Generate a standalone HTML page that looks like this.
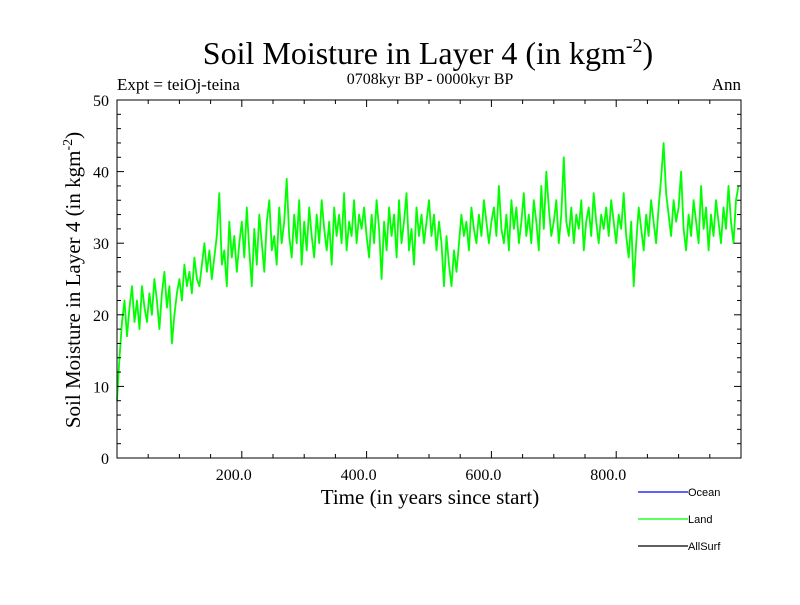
<!DOCTYPE html>
<html><head><meta charset="utf-8"><style>
body{margin:0;background:#fff;}
svg text{font-family:"Liberation Serif",serif;}
</style></head><body>
<svg width="800" height="600" xmlns="http://www.w3.org/2000/svg" id="chart">
<text x="428" y="64" font-size="32" text-anchor="middle">Soil Moisture in Layer 4 (in kgm<tspan dy="-12" font-size="20">-2</tspan><tspan dy="12">)</tspan></text>
<text x="117" y="90" font-size="17">Expt = teiOj-teina</text>
<text x="430" y="84" font-size="16" text-anchor="middle">0708kyr BP - 0000kyr BP</text>
<text x="741" y="90" font-size="17" text-anchor="end">Ann</text>
<g id="plot"></g>
<text x="430" y="504" font-size="21" text-anchor="middle">Time (in years since start)</text>
<text transform="translate(80,280) rotate(-90)" font-size="21" text-anchor="middle">Soil Moisture in Layer 4 (in kgm<tspan dy="-8" font-size="14">-2</tspan><tspan dy="8">)</tspan></text>
<g font-size="11">
<line x1="638" y1="492" x2="688" y2="492" stroke="#0000ff" stroke-width="1.2"/>
<text x="688" y="496" style="font-family:'Liberation Sans',sans-serif">Ocean</text>
<line x1="638" y1="519" x2="688" y2="519" stroke="#00ff00" stroke-width="1.2"/>
<text x="688" y="523" style="font-family:'Liberation Sans',sans-serif">Land</text>
<line x1="638" y1="546" x2="688" y2="546" stroke="#000" stroke-width="1.2"/>
<text x="688" y="550" style="font-family:'Liberation Sans',sans-serif">AllSurf</text>
</g>
</svg>
<script>
const years = [];
const landValues = [
8,14,19,22,17,21,24,19,22,18,24,21,19,23,20,25,22,18,23,26,21,24,16,20,23,
25,22,27,24,26,23,28,25,24,27,30,26,29,25,28,31,37,27,29,24,33,28,31,26,30,
33,28,35,29,24,32,27,34,30,26,33,36,29,31,27,35,30,33,39,31,28,34,30,36,27,
33,29,35,31,28,34,30,36,32,29,33,27,35,31,34,30,37,29,33,31,36,30,34,32,35,
31,28,34,30,36,32,25,33,29,35,31,34,28,36,30,33,37,29,32,27,35,31,34,30,33,
36,31,34,29,33,30,24,31,27,24,29,26,30,34,31,33,29,35,32,30,34,31,36,33,30,
33,35,31,38,32,30,34,29,36,32,35,30,33,37,31,34,30,36,33,29,38,32,40,35,31,
33,36,30,34,42,33,31,35,30,34,32,36,29,33,35,31,37,33,30,34,32,35,31,36,33,
30,34,32,37,31,28,33,24,30,35,32,29,34,31,36,33,30,35,39,44,37,34,31,36,33,
35,40,32,29,34,31,36,33,30,38,32,35,29,34,31,36,33,30,35,32,38,33,30,36,38];
for(let i=0;i<landValues.length;i++) years.push(i*4);
const yTickLabels=["0","10","20","30","40","50"];
const xTickLabels=["200.0","400.0","600.0","800.0"];
const X0=117,X1=741,Y0=458,Y1=100;
const xs=v=>X0+(v/1000)*(X1-X0), ys=v=>Y0-(v/50)*(Y0-Y1);
const NS="http://www.w3.org/2000/svg", g=document.getElementById('plot');
function mk(t,a){const e=document.createElementNS(NS,t);for(const k in a)e.setAttribute(k,a[k]);g.appendChild(e);return e;}
let d=years.map((y,i)=>(i?'L':'M')+xs(y).toFixed(1)+' '+ys(landValues[i]).toFixed(1)).join(' ');
const line=mk('path',{d:d,fill:'none',stroke:'#00ff00','stroke-width':1.8,'stroke-linejoin':'round'});


const frame=mk('rect',{x:X0,y:Y1,width:X1-X0,height:Y0-Y1,fill:'none',stroke:'#000','stroke-width':1});


for(let v=0;v<=50;v+=2){const L=v%10===0?7:4;const y=ys(v);
 mk('line',{x1:X0,y1:y,x2:X0+L,y2:y,stroke:'#000'});mk('line',{x1:X1,y1:y,x2:X1-L,y2:y,stroke:'#000'});}
yTickLabels.forEach(s=>{const t=mk('text',{x:X0-8,y:ys(+s)+6,'font-size':16,'text-anchor':'end'});t.textContent=s;

});
for(let v=50;v<1000;v+=50){const L=v%200===0?7:4;const x=xs(v);
 mk('line',{x1:x,y1:Y0,x2:x,y2:Y0-L,stroke:'#000'});mk('line',{x1:x,y1:Y1,x2:x,y2:Y1+L,stroke:'#000'});}
xTickLabels.forEach(s=>{const t=mk('text',{x:xs(parseFloat(s))-8,y:Y0+22,'font-size':16,'text-anchor':'middle'});t.textContent=s;

});
</script>
</body></html>
